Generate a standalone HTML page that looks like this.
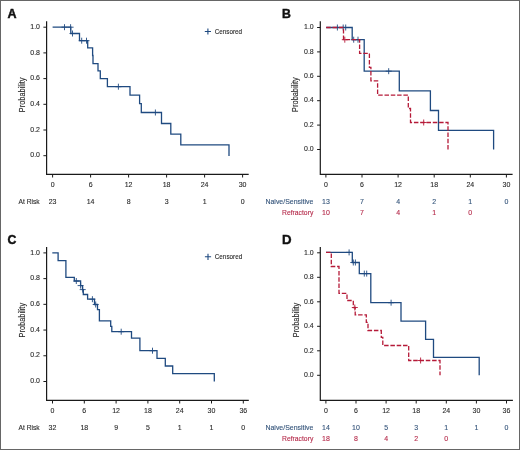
<!DOCTYPE html>
<html><head><meta charset="utf-8"><style>
html,body{margin:0;padding:0;background:#fff;}
svg{display:block;}
#w{will-change:transform;width:520px;height:450px;}
text{font-family:"Liberation Sans", sans-serif;}
</style></head><body>
<div id="w"><svg width="520" height="450" viewBox="0 0 520 450">
<rect x="0" y="0" width="520" height="450" fill="#fff"/>
<rect x="0.5" y="0.5" width="519" height="449" fill="none" stroke="#666666" stroke-width="1"/>
<text transform="translate(7.60,17.50) scale(1.01,1)" x="0" y="0" font-size="12.4" font-weight="bold" fill="#111" stroke="#111" stroke-width="0.45">A</text>
<path d="M46.60,21.20V174.30H248.70" stroke="#1a1a1a" stroke-width="1.2" fill="none"/>
<path d="M43.40,155.70H46.60" stroke="#1a1a1a" stroke-width="1"/>
<text x="40.00" y="157.40" font-size="7.6" text-anchor="end" fill="#2a2a2a" font-weight="normal" textLength="9.7" lengthAdjust="spacingAndGlyphs"  stroke="#2a2a2a" stroke-width="0.12">0.0</text>
<path d="M43.40,130.00H46.60" stroke="#1a1a1a" stroke-width="1"/>
<text x="40.00" y="131.70" font-size="7.6" text-anchor="end" fill="#2a2a2a" font-weight="normal" textLength="9.7" lengthAdjust="spacingAndGlyphs"  stroke="#2a2a2a" stroke-width="0.12">0.2</text>
<path d="M43.40,104.30H46.60" stroke="#1a1a1a" stroke-width="1"/>
<text x="40.00" y="106.00" font-size="7.6" text-anchor="end" fill="#2a2a2a" font-weight="normal" textLength="9.7" lengthAdjust="spacingAndGlyphs"  stroke="#2a2a2a" stroke-width="0.12">0.4</text>
<path d="M43.40,78.60H46.60" stroke="#1a1a1a" stroke-width="1"/>
<text x="40.00" y="80.30" font-size="7.6" text-anchor="end" fill="#2a2a2a" font-weight="normal" textLength="9.7" lengthAdjust="spacingAndGlyphs"  stroke="#2a2a2a" stroke-width="0.12">0.6</text>
<path d="M43.40,52.90H46.60" stroke="#1a1a1a" stroke-width="1"/>
<text x="40.00" y="54.60" font-size="7.6" text-anchor="end" fill="#2a2a2a" font-weight="normal" textLength="9.7" lengthAdjust="spacingAndGlyphs"  stroke="#2a2a2a" stroke-width="0.12">0.8</text>
<path d="M43.40,27.20H46.60" stroke="#1a1a1a" stroke-width="1"/>
<text x="40.00" y="28.90" font-size="7.6" text-anchor="end" fill="#2a2a2a" font-weight="normal" textLength="9.7" lengthAdjust="spacingAndGlyphs"  stroke="#2a2a2a" stroke-width="0.12">1.0</text>
<path d="M52.60,174.30V177.50" stroke="#1a1a1a" stroke-width="1"/>
<text x="52.60" y="187.00" font-size="7.6" text-anchor="middle" fill="#2a2a2a" font-weight="normal" textLength="3.89" lengthAdjust="spacingAndGlyphs"  stroke="#2a2a2a" stroke-width="0.12">0</text>
<path d="M90.60,174.30V177.50" stroke="#1a1a1a" stroke-width="1"/>
<text x="90.60" y="187.00" font-size="7.6" text-anchor="middle" fill="#2a2a2a" font-weight="normal" textLength="3.89" lengthAdjust="spacingAndGlyphs"  stroke="#2a2a2a" stroke-width="0.12">6</text>
<path d="M128.60,174.30V177.50" stroke="#1a1a1a" stroke-width="1"/>
<text x="128.60" y="187.00" font-size="7.6" text-anchor="middle" fill="#2a2a2a" font-weight="normal" textLength="7.79" lengthAdjust="spacingAndGlyphs"  stroke="#2a2a2a" stroke-width="0.12">12</text>
<path d="M166.60,174.30V177.50" stroke="#1a1a1a" stroke-width="1"/>
<text x="166.60" y="187.00" font-size="7.6" text-anchor="middle" fill="#2a2a2a" font-weight="normal" textLength="7.79" lengthAdjust="spacingAndGlyphs"  stroke="#2a2a2a" stroke-width="0.12">18</text>
<path d="M204.60,174.30V177.50" stroke="#1a1a1a" stroke-width="1"/>
<text x="204.60" y="187.00" font-size="7.6" text-anchor="middle" fill="#2a2a2a" font-weight="normal" textLength="7.79" lengthAdjust="spacingAndGlyphs"  stroke="#2a2a2a" stroke-width="0.12">24</text>
<path d="M242.60,174.30V177.50" stroke="#1a1a1a" stroke-width="1"/>
<text x="242.60" y="187.00" font-size="7.6" text-anchor="middle" fill="#2a2a2a" font-weight="normal" textLength="7.79" lengthAdjust="spacingAndGlyphs"  stroke="#2a2a2a" stroke-width="0.12">30</text>
<text x="25.40" y="94.90" font-size="8.6" text-anchor="middle" fill="#2a2a2a" font-weight="normal" textLength="34.6" lengthAdjust="spacingAndGlyphs" transform="rotate(-90 25.40 94.90)" stroke="#2a2a2a" stroke-width="0.12">Probability</text>
<text x="18.50" y="204.00" font-size="7.6" text-anchor="start" fill="#2a2a2a" font-weight="normal" textLength="21.2" lengthAdjust="spacingAndGlyphs"  stroke="#2a2a2a" stroke-width="0.12">At Risk</text>
<text x="52.60" y="204.00" font-size="7.6" text-anchor="middle" fill="#2a2a2a" font-weight="normal" textLength="7.79" lengthAdjust="spacingAndGlyphs"  stroke="#2a2a2a" stroke-width="0.12">23</text>
<text x="90.60" y="204.00" font-size="7.6" text-anchor="middle" fill="#2a2a2a" font-weight="normal" textLength="7.79" lengthAdjust="spacingAndGlyphs"  stroke="#2a2a2a" stroke-width="0.12">14</text>
<text x="128.60" y="204.00" font-size="7.6" text-anchor="middle" fill="#2a2a2a" font-weight="normal" textLength="3.89" lengthAdjust="spacingAndGlyphs"  stroke="#2a2a2a" stroke-width="0.12">8</text>
<text x="166.60" y="204.00" font-size="7.6" text-anchor="middle" fill="#2a2a2a" font-weight="normal" textLength="3.89" lengthAdjust="spacingAndGlyphs"  stroke="#2a2a2a" stroke-width="0.12">3</text>
<text x="204.60" y="204.00" font-size="7.6" text-anchor="middle" fill="#2a2a2a" font-weight="normal" textLength="3.89" lengthAdjust="spacingAndGlyphs"  stroke="#2a2a2a" stroke-width="0.12">1</text>
<text x="242.60" y="204.00" font-size="7.6" text-anchor="middle" fill="#2a2a2a" font-weight="normal" textLength="3.89" lengthAdjust="spacingAndGlyphs"  stroke="#2a2a2a" stroke-width="0.12">0</text>
<path d="M204.80,31.50H211.00M207.90,28.40V34.60" stroke="#1f4a80" stroke-width="1.1" fill="none"/>
<text x="214.70" y="33.80" font-size="7.6" text-anchor="start" fill="#2a2a2a" font-weight="normal" textLength="27.4" lengthAdjust="spacingAndGlyphs"  stroke="#2a2a2a" stroke-width="0.12">Censored</text>
<g transform="translate(0,0.3)">
<path d="M52.6,26.9H70.8V33.2H79.5V40.4H87.7V47.5H92.6V55.2H93V63.3H98V70.5H100.3V78.4H107.4V86.4H130V94.8H139.6V103.4H141.3V112.2H161.5V123.2H170.8V133.8H180.8V144.5H229V155.7" stroke="#1f4a80" stroke-width="1.3" fill="none"/>
<path d="M61.50,26.90H67.50M64.50,23.90V29.90" stroke="#1f4a80" stroke-width="0.9" fill="none"/>
<path d="M67.60,26.90H73.60M70.60,23.90V29.90" stroke="#1f4a80" stroke-width="0.9" fill="none"/>
<path d="M69.50,33.20H75.50M72.50,30.20V36.20" stroke="#1f4a80" stroke-width="0.9" fill="none"/>
<path d="M78.70,40.40H84.70M81.70,37.40V43.40" stroke="#1f4a80" stroke-width="0.9" fill="none"/>
<path d="M83.50,40.40H89.50M86.50,37.40V43.40" stroke="#1f4a80" stroke-width="0.9" fill="none"/>
<path d="M115.40,86.40H121.40M118.40,83.40V89.40" stroke="#1f4a80" stroke-width="0.9" fill="none"/>
<path d="M152.40,112.20H158.40M155.40,109.20V115.20" stroke="#1f4a80" stroke-width="0.9" fill="none"/>
</g>
<text transform="translate(281.90,17.60) scale(0.99,1)" x="0" y="0" font-size="12.4" font-weight="bold" fill="#111" stroke="#111" stroke-width="0.45">B</text>
<path d="M320.30,21.20V174.30H512.60" stroke="#1a1a1a" stroke-width="1.2" fill="none"/>
<path d="M317.10,149.50H320.30" stroke="#1a1a1a" stroke-width="1"/>
<text x="313.70" y="151.20" font-size="7.6" text-anchor="end" fill="#2a2a2a" font-weight="normal" textLength="9.7" lengthAdjust="spacingAndGlyphs"  stroke="#2a2a2a" stroke-width="0.12">0.0</text>
<path d="M317.10,125.10H320.30" stroke="#1a1a1a" stroke-width="1"/>
<text x="313.70" y="126.80" font-size="7.6" text-anchor="end" fill="#2a2a2a" font-weight="normal" textLength="9.7" lengthAdjust="spacingAndGlyphs"  stroke="#2a2a2a" stroke-width="0.12">0.2</text>
<path d="M317.10,100.70H320.30" stroke="#1a1a1a" stroke-width="1"/>
<text x="313.70" y="102.40" font-size="7.6" text-anchor="end" fill="#2a2a2a" font-weight="normal" textLength="9.7" lengthAdjust="spacingAndGlyphs"  stroke="#2a2a2a" stroke-width="0.12">0.4</text>
<path d="M317.10,76.30H320.30" stroke="#1a1a1a" stroke-width="1"/>
<text x="313.70" y="78.00" font-size="7.6" text-anchor="end" fill="#2a2a2a" font-weight="normal" textLength="9.7" lengthAdjust="spacingAndGlyphs"  stroke="#2a2a2a" stroke-width="0.12">0.6</text>
<path d="M317.10,51.90H320.30" stroke="#1a1a1a" stroke-width="1"/>
<text x="313.70" y="53.60" font-size="7.6" text-anchor="end" fill="#2a2a2a" font-weight="normal" textLength="9.7" lengthAdjust="spacingAndGlyphs"  stroke="#2a2a2a" stroke-width="0.12">0.8</text>
<path d="M317.10,27.50H320.30" stroke="#1a1a1a" stroke-width="1"/>
<text x="313.70" y="29.20" font-size="7.6" text-anchor="end" fill="#2a2a2a" font-weight="normal" textLength="9.7" lengthAdjust="spacingAndGlyphs"  stroke="#2a2a2a" stroke-width="0.12">1.0</text>
<path d="M325.90,174.30V177.50" stroke="#1a1a1a" stroke-width="1"/>
<text x="325.90" y="186.70" font-size="7.6" text-anchor="middle" fill="#2a2a2a" font-weight="normal" textLength="3.89" lengthAdjust="spacingAndGlyphs"  stroke="#2a2a2a" stroke-width="0.12">0</text>
<path d="M362.00,174.30V177.50" stroke="#1a1a1a" stroke-width="1"/>
<text x="362.00" y="186.70" font-size="7.6" text-anchor="middle" fill="#2a2a2a" font-weight="normal" textLength="3.89" lengthAdjust="spacingAndGlyphs"  stroke="#2a2a2a" stroke-width="0.12">6</text>
<path d="M398.10,174.30V177.50" stroke="#1a1a1a" stroke-width="1"/>
<text x="398.10" y="186.70" font-size="7.6" text-anchor="middle" fill="#2a2a2a" font-weight="normal" textLength="7.79" lengthAdjust="spacingAndGlyphs"  stroke="#2a2a2a" stroke-width="0.12">12</text>
<path d="M434.20,174.30V177.50" stroke="#1a1a1a" stroke-width="1"/>
<text x="434.20" y="186.70" font-size="7.6" text-anchor="middle" fill="#2a2a2a" font-weight="normal" textLength="7.79" lengthAdjust="spacingAndGlyphs"  stroke="#2a2a2a" stroke-width="0.12">18</text>
<path d="M470.30,174.30V177.50" stroke="#1a1a1a" stroke-width="1"/>
<text x="470.30" y="186.70" font-size="7.6" text-anchor="middle" fill="#2a2a2a" font-weight="normal" textLength="7.79" lengthAdjust="spacingAndGlyphs"  stroke="#2a2a2a" stroke-width="0.12">24</text>
<path d="M506.40,174.30V177.50" stroke="#1a1a1a" stroke-width="1"/>
<text x="506.40" y="186.70" font-size="7.6" text-anchor="middle" fill="#2a2a2a" font-weight="normal" textLength="7.79" lengthAdjust="spacingAndGlyphs"  stroke="#2a2a2a" stroke-width="0.12">30</text>
<text x="298.40" y="94.60" font-size="8.6" text-anchor="middle" fill="#2a2a2a" font-weight="normal" textLength="34.6" lengthAdjust="spacingAndGlyphs" transform="rotate(-90 298.40 94.60)" stroke="#2a2a2a" stroke-width="0.12">Probability</text>
<text x="313.30" y="204.20" font-size="7.6" text-anchor="end" fill="#34547a" font-weight="normal" textLength="47.8" lengthAdjust="spacingAndGlyphs"  stroke="#34547a" stroke-width="0.12">Naive/Sensitive</text>
<text x="325.90" y="204.20" font-size="7.6" text-anchor="middle" fill="#34547a" font-weight="normal" textLength="7.79" lengthAdjust="spacingAndGlyphs"  stroke="#34547a" stroke-width="0.12">13</text>
<text x="362.00" y="204.20" font-size="7.6" text-anchor="middle" fill="#34547a" font-weight="normal" textLength="3.89" lengthAdjust="spacingAndGlyphs"  stroke="#34547a" stroke-width="0.12">7</text>
<text x="398.10" y="204.20" font-size="7.6" text-anchor="middle" fill="#34547a" font-weight="normal" textLength="3.89" lengthAdjust="spacingAndGlyphs"  stroke="#34547a" stroke-width="0.12">4</text>
<text x="434.20" y="204.20" font-size="7.6" text-anchor="middle" fill="#34547a" font-weight="normal" textLength="3.89" lengthAdjust="spacingAndGlyphs"  stroke="#34547a" stroke-width="0.12">2</text>
<text x="470.30" y="204.20" font-size="7.6" text-anchor="middle" fill="#34547a" font-weight="normal" textLength="3.89" lengthAdjust="spacingAndGlyphs"  stroke="#34547a" stroke-width="0.12">1</text>
<text x="506.40" y="204.20" font-size="7.6" text-anchor="middle" fill="#34547a" font-weight="normal" textLength="3.89" lengthAdjust="spacingAndGlyphs"  stroke="#34547a" stroke-width="0.12">0</text>
<text x="313.30" y="214.70" font-size="7.6" text-anchor="end" fill="#b52a4a" font-weight="normal" textLength="31.3" lengthAdjust="spacingAndGlyphs"  stroke="#b52a4a" stroke-width="0.12">Refractory</text>
<text x="325.90" y="214.70" font-size="7.6" text-anchor="middle" fill="#b52a4a" font-weight="normal" textLength="7.79" lengthAdjust="spacingAndGlyphs"  stroke="#b52a4a" stroke-width="0.12">10</text>
<text x="362.00" y="214.70" font-size="7.6" text-anchor="middle" fill="#b52a4a" font-weight="normal" textLength="3.89" lengthAdjust="spacingAndGlyphs"  stroke="#b52a4a" stroke-width="0.12">7</text>
<text x="398.10" y="214.70" font-size="7.6" text-anchor="middle" fill="#b52a4a" font-weight="normal" textLength="3.89" lengthAdjust="spacingAndGlyphs"  stroke="#b52a4a" stroke-width="0.12">4</text>
<text x="434.20" y="214.70" font-size="7.6" text-anchor="middle" fill="#b52a4a" font-weight="normal" textLength="3.89" lengthAdjust="spacingAndGlyphs"  stroke="#b52a4a" stroke-width="0.12">1</text>
<text x="470.30" y="214.70" font-size="7.6" text-anchor="middle" fill="#b52a4a" font-weight="normal" textLength="3.89" lengthAdjust="spacingAndGlyphs"  stroke="#b52a4a" stroke-width="0.12">0</text>
<g transform="translate(0,0.3)">
<path d="M326.2,27.2H352.2V39.4H364.2V70.9H399.3V90.5H430.4V110.2H438.5V130H493.6V149.2" stroke="#1f4a80" stroke-width="1.3" fill="none"/>
<path d="M334.40,27.20H340.40M337.40,24.20V30.20" stroke="#1f4a80" stroke-width="0.9" fill="none"/>
<path d="M340.20,27.20H346.20M343.20,24.20V30.20" stroke="#1f4a80" stroke-width="0.9" fill="none"/>
<path d="M342.70,27.20H348.70M345.70,24.20V30.20" stroke="#1f4a80" stroke-width="0.9" fill="none"/>
<path d="M350.70,39.40H356.70M353.70,36.40V42.40" stroke="#1f4a80" stroke-width="0.9" fill="none"/>
<path d="M355.00,39.40H361.00M358.00,36.40V42.40" stroke="#1f4a80" stroke-width="0.9" fill="none"/>
<path d="M385.70,70.90H391.70M388.70,67.90V73.90" stroke="#1f4a80" stroke-width="0.9" fill="none"/>
<path d="M326.2,27.2H343.5V39.4H359.6V53.1H369.4V67H370.9V80.5H377.6V94.9H408.3V108.2H410.5V122.2H448V149.2" stroke="#b51a38" stroke-width="1.3" fill="none" stroke-dasharray="4.5 1.8"/>
<path d="M341.80,39.40H347.80M344.80,36.40V42.40" stroke="#b51a38" stroke-width="0.9" fill="none"/>
<path d="M420.70,122.20H426.70M423.70,119.20V125.20" stroke="#b51a38" stroke-width="0.9" fill="none"/>
</g>
<text transform="translate(7.60,243.70) scale(0.99,1)" x="0" y="0" font-size="12.4" font-weight="bold" fill="#111" stroke="#111" stroke-width="0.45">C</text>
<path d="M46.60,246.90V400.30H248.80" stroke="#1a1a1a" stroke-width="1.2" fill="none"/>
<path d="M43.40,381.50H46.60" stroke="#1a1a1a" stroke-width="1"/>
<text x="40.00" y="383.20" font-size="7.6" text-anchor="end" fill="#2a2a2a" font-weight="normal" textLength="9.7" lengthAdjust="spacingAndGlyphs"  stroke="#2a2a2a" stroke-width="0.12">0.0</text>
<path d="M43.40,355.78H46.60" stroke="#1a1a1a" stroke-width="1"/>
<text x="40.00" y="357.48" font-size="7.6" text-anchor="end" fill="#2a2a2a" font-weight="normal" textLength="9.7" lengthAdjust="spacingAndGlyphs"  stroke="#2a2a2a" stroke-width="0.12">0.2</text>
<path d="M43.40,330.06H46.60" stroke="#1a1a1a" stroke-width="1"/>
<text x="40.00" y="331.76" font-size="7.6" text-anchor="end" fill="#2a2a2a" font-weight="normal" textLength="9.7" lengthAdjust="spacingAndGlyphs"  stroke="#2a2a2a" stroke-width="0.12">0.4</text>
<path d="M43.40,304.34H46.60" stroke="#1a1a1a" stroke-width="1"/>
<text x="40.00" y="306.04" font-size="7.6" text-anchor="end" fill="#2a2a2a" font-weight="normal" textLength="9.7" lengthAdjust="spacingAndGlyphs"  stroke="#2a2a2a" stroke-width="0.12">0.6</text>
<path d="M43.40,278.62H46.60" stroke="#1a1a1a" stroke-width="1"/>
<text x="40.00" y="280.32" font-size="7.6" text-anchor="end" fill="#2a2a2a" font-weight="normal" textLength="9.7" lengthAdjust="spacingAndGlyphs"  stroke="#2a2a2a" stroke-width="0.12">0.8</text>
<path d="M43.40,252.90H46.60" stroke="#1a1a1a" stroke-width="1"/>
<text x="40.00" y="254.60" font-size="7.6" text-anchor="end" fill="#2a2a2a" font-weight="normal" textLength="9.7" lengthAdjust="spacingAndGlyphs"  stroke="#2a2a2a" stroke-width="0.12">1.0</text>
<path d="M52.50,400.30V403.50" stroke="#1a1a1a" stroke-width="1"/>
<text x="52.50" y="413.00" font-size="7.6" text-anchor="middle" fill="#2a2a2a" font-weight="normal" textLength="3.89" lengthAdjust="spacingAndGlyphs"  stroke="#2a2a2a" stroke-width="0.12">0</text>
<path d="M84.30,400.30V403.50" stroke="#1a1a1a" stroke-width="1"/>
<text x="84.30" y="413.00" font-size="7.6" text-anchor="middle" fill="#2a2a2a" font-weight="normal" textLength="3.89" lengthAdjust="spacingAndGlyphs"  stroke="#2a2a2a" stroke-width="0.12">6</text>
<path d="M116.10,400.30V403.50" stroke="#1a1a1a" stroke-width="1"/>
<text x="116.10" y="413.00" font-size="7.6" text-anchor="middle" fill="#2a2a2a" font-weight="normal" textLength="7.79" lengthAdjust="spacingAndGlyphs"  stroke="#2a2a2a" stroke-width="0.12">12</text>
<path d="M147.90,400.30V403.50" stroke="#1a1a1a" stroke-width="1"/>
<text x="147.90" y="413.00" font-size="7.6" text-anchor="middle" fill="#2a2a2a" font-weight="normal" textLength="7.79" lengthAdjust="spacingAndGlyphs"  stroke="#2a2a2a" stroke-width="0.12">18</text>
<path d="M179.70,400.30V403.50" stroke="#1a1a1a" stroke-width="1"/>
<text x="179.70" y="413.00" font-size="7.6" text-anchor="middle" fill="#2a2a2a" font-weight="normal" textLength="7.79" lengthAdjust="spacingAndGlyphs"  stroke="#2a2a2a" stroke-width="0.12">24</text>
<path d="M211.50,400.30V403.50" stroke="#1a1a1a" stroke-width="1"/>
<text x="211.50" y="413.00" font-size="7.6" text-anchor="middle" fill="#2a2a2a" font-weight="normal" textLength="7.79" lengthAdjust="spacingAndGlyphs"  stroke="#2a2a2a" stroke-width="0.12">30</text>
<path d="M243.30,400.30V403.50" stroke="#1a1a1a" stroke-width="1"/>
<text x="243.30" y="413.00" font-size="7.6" text-anchor="middle" fill="#2a2a2a" font-weight="normal" textLength="7.79" lengthAdjust="spacingAndGlyphs"  stroke="#2a2a2a" stroke-width="0.12">36</text>
<text x="25.40" y="320.20" font-size="8.6" text-anchor="middle" fill="#2a2a2a" font-weight="normal" textLength="34.6" lengthAdjust="spacingAndGlyphs" transform="rotate(-90 25.40 320.20)" stroke="#2a2a2a" stroke-width="0.12">Probability</text>
<text x="18.50" y="430.00" font-size="7.6" text-anchor="start" fill="#2a2a2a" font-weight="normal" textLength="21.2" lengthAdjust="spacingAndGlyphs"  stroke="#2a2a2a" stroke-width="0.12">At Risk</text>
<text x="52.50" y="430.00" font-size="7.6" text-anchor="middle" fill="#2a2a2a" font-weight="normal" textLength="7.79" lengthAdjust="spacingAndGlyphs"  stroke="#2a2a2a" stroke-width="0.12">32</text>
<text x="84.30" y="430.00" font-size="7.6" text-anchor="middle" fill="#2a2a2a" font-weight="normal" textLength="7.79" lengthAdjust="spacingAndGlyphs"  stroke="#2a2a2a" stroke-width="0.12">18</text>
<text x="116.10" y="430.00" font-size="7.6" text-anchor="middle" fill="#2a2a2a" font-weight="normal" textLength="3.89" lengthAdjust="spacingAndGlyphs"  stroke="#2a2a2a" stroke-width="0.12">9</text>
<text x="147.90" y="430.00" font-size="7.6" text-anchor="middle" fill="#2a2a2a" font-weight="normal" textLength="3.89" lengthAdjust="spacingAndGlyphs"  stroke="#2a2a2a" stroke-width="0.12">5</text>
<text x="179.70" y="430.00" font-size="7.6" text-anchor="middle" fill="#2a2a2a" font-weight="normal" textLength="3.89" lengthAdjust="spacingAndGlyphs"  stroke="#2a2a2a" stroke-width="0.12">1</text>
<text x="211.50" y="430.00" font-size="7.6" text-anchor="middle" fill="#2a2a2a" font-weight="normal" textLength="3.89" lengthAdjust="spacingAndGlyphs"  stroke="#2a2a2a" stroke-width="0.12">1</text>
<text x="243.30" y="430.00" font-size="7.6" text-anchor="middle" fill="#2a2a2a" font-weight="normal" textLength="3.89" lengthAdjust="spacingAndGlyphs"  stroke="#2a2a2a" stroke-width="0.12">0</text>
<path d="M204.90,256.80H211.10M208.00,253.70V259.90" stroke="#1f4a80" stroke-width="1.1" fill="none"/>
<text x="214.80" y="259.10" font-size="7.6" text-anchor="start" fill="#2a2a2a" font-weight="normal" textLength="27.4" lengthAdjust="spacingAndGlyphs"  stroke="#2a2a2a" stroke-width="0.12">Censored</text>
<g transform="translate(0,0.3)">
<path d="M52.3,252.6H58.1V260.4H65.9V277H74.3V280.7H80.6V285.3H82.5V289.3H83.3V294.2H87.6V298.9H94.5V304.2H97.5V309.4H99.4V320.6H110.7V326H111.8V331.4H131.5V337.8H139.9V350.4H157V358H165.3V365.7H172.7V373.3H214.3V381.2" stroke="#1f4a80" stroke-width="1.3" fill="none"/>
<path d="M73.30,280.70H79.30M76.30,277.70V283.70" stroke="#1f4a80" stroke-width="0.9" fill="none"/>
<path d="M77.60,285.30H83.60M80.60,282.30V288.30" stroke="#1f4a80" stroke-width="0.9" fill="none"/>
<path d="M79.70,289.30H85.70M82.70,286.30V292.30" stroke="#1f4a80" stroke-width="0.9" fill="none"/>
<path d="M89.40,298.90H95.40M92.40,295.90V301.90" stroke="#1f4a80" stroke-width="0.9" fill="none"/>
<path d="M92.70,304.20H98.70M95.70,301.20V307.20" stroke="#1f4a80" stroke-width="0.9" fill="none"/>
<path d="M118.20,331.40H124.20M121.20,328.40V334.40" stroke="#1f4a80" stroke-width="0.9" fill="none"/>
<path d="M149.50,350.40H155.50M152.50,347.40V353.40" stroke="#1f4a80" stroke-width="0.9" fill="none"/>
</g>
<text transform="translate(281.90,243.80) scale(1.07,1)" x="0" y="0" font-size="12.4" font-weight="bold" fill="#111" stroke="#111" stroke-width="0.4">D</text>
<path d="M320.30,246.90V400.30H512.90" stroke="#1a1a1a" stroke-width="1.2" fill="none"/>
<path d="M317.10,375.30H320.30" stroke="#1a1a1a" stroke-width="1"/>
<text x="313.70" y="377.00" font-size="7.6" text-anchor="end" fill="#2a2a2a" font-weight="normal" textLength="9.7" lengthAdjust="spacingAndGlyphs"  stroke="#2a2a2a" stroke-width="0.12">0.0</text>
<path d="M317.10,350.80H320.30" stroke="#1a1a1a" stroke-width="1"/>
<text x="313.70" y="352.50" font-size="7.6" text-anchor="end" fill="#2a2a2a" font-weight="normal" textLength="9.7" lengthAdjust="spacingAndGlyphs"  stroke="#2a2a2a" stroke-width="0.12">0.2</text>
<path d="M317.10,326.30H320.30" stroke="#1a1a1a" stroke-width="1"/>
<text x="313.70" y="328.00" font-size="7.6" text-anchor="end" fill="#2a2a2a" font-weight="normal" textLength="9.7" lengthAdjust="spacingAndGlyphs"  stroke="#2a2a2a" stroke-width="0.12">0.4</text>
<path d="M317.10,301.80H320.30" stroke="#1a1a1a" stroke-width="1"/>
<text x="313.70" y="303.50" font-size="7.6" text-anchor="end" fill="#2a2a2a" font-weight="normal" textLength="9.7" lengthAdjust="spacingAndGlyphs"  stroke="#2a2a2a" stroke-width="0.12">0.6</text>
<path d="M317.10,277.30H320.30" stroke="#1a1a1a" stroke-width="1"/>
<text x="313.70" y="279.00" font-size="7.6" text-anchor="end" fill="#2a2a2a" font-weight="normal" textLength="9.7" lengthAdjust="spacingAndGlyphs"  stroke="#2a2a2a" stroke-width="0.12">0.8</text>
<path d="M317.10,252.80H320.30" stroke="#1a1a1a" stroke-width="1"/>
<text x="313.70" y="254.50" font-size="7.6" text-anchor="end" fill="#2a2a2a" font-weight="normal" textLength="9.7" lengthAdjust="spacingAndGlyphs"  stroke="#2a2a2a" stroke-width="0.12">1.0</text>
<path d="M325.90,400.30V403.50" stroke="#1a1a1a" stroke-width="1"/>
<text x="325.90" y="412.60" font-size="7.6" text-anchor="middle" fill="#2a2a2a" font-weight="normal" textLength="3.89" lengthAdjust="spacingAndGlyphs"  stroke="#2a2a2a" stroke-width="0.12">0</text>
<path d="M356.00,400.30V403.50" stroke="#1a1a1a" stroke-width="1"/>
<text x="356.00" y="412.60" font-size="7.6" text-anchor="middle" fill="#2a2a2a" font-weight="normal" textLength="3.89" lengthAdjust="spacingAndGlyphs"  stroke="#2a2a2a" stroke-width="0.12">6</text>
<path d="M386.10,400.30V403.50" stroke="#1a1a1a" stroke-width="1"/>
<text x="386.10" y="412.60" font-size="7.6" text-anchor="middle" fill="#2a2a2a" font-weight="normal" textLength="7.79" lengthAdjust="spacingAndGlyphs"  stroke="#2a2a2a" stroke-width="0.12">12</text>
<path d="M416.20,400.30V403.50" stroke="#1a1a1a" stroke-width="1"/>
<text x="416.20" y="412.60" font-size="7.6" text-anchor="middle" fill="#2a2a2a" font-weight="normal" textLength="7.79" lengthAdjust="spacingAndGlyphs"  stroke="#2a2a2a" stroke-width="0.12">18</text>
<path d="M446.30,400.30V403.50" stroke="#1a1a1a" stroke-width="1"/>
<text x="446.30" y="412.60" font-size="7.6" text-anchor="middle" fill="#2a2a2a" font-weight="normal" textLength="7.79" lengthAdjust="spacingAndGlyphs"  stroke="#2a2a2a" stroke-width="0.12">24</text>
<path d="M476.40,400.30V403.50" stroke="#1a1a1a" stroke-width="1"/>
<text x="476.40" y="412.60" font-size="7.6" text-anchor="middle" fill="#2a2a2a" font-weight="normal" textLength="7.79" lengthAdjust="spacingAndGlyphs"  stroke="#2a2a2a" stroke-width="0.12">30</text>
<path d="M506.50,400.30V403.50" stroke="#1a1a1a" stroke-width="1"/>
<text x="506.50" y="412.60" font-size="7.6" text-anchor="middle" fill="#2a2a2a" font-weight="normal" textLength="7.79" lengthAdjust="spacingAndGlyphs"  stroke="#2a2a2a" stroke-width="0.12">36</text>
<text x="298.60" y="320.00" font-size="8.6" text-anchor="middle" fill="#2a2a2a" font-weight="normal" textLength="34.6" lengthAdjust="spacingAndGlyphs" transform="rotate(-90 298.60 320.00)" stroke="#2a2a2a" stroke-width="0.12">Probability</text>
<text x="313.30" y="430.20" font-size="7.6" text-anchor="end" fill="#34547a" font-weight="normal" textLength="47.8" lengthAdjust="spacingAndGlyphs"  stroke="#34547a" stroke-width="0.12">Naive/Sensitive</text>
<text x="325.90" y="430.20" font-size="7.6" text-anchor="middle" fill="#34547a" font-weight="normal" textLength="7.79" lengthAdjust="spacingAndGlyphs"  stroke="#34547a" stroke-width="0.12">14</text>
<text x="356.00" y="430.20" font-size="7.6" text-anchor="middle" fill="#34547a" font-weight="normal" textLength="7.79" lengthAdjust="spacingAndGlyphs"  stroke="#34547a" stroke-width="0.12">10</text>
<text x="386.10" y="430.20" font-size="7.6" text-anchor="middle" fill="#34547a" font-weight="normal" textLength="3.89" lengthAdjust="spacingAndGlyphs"  stroke="#34547a" stroke-width="0.12">5</text>
<text x="416.20" y="430.20" font-size="7.6" text-anchor="middle" fill="#34547a" font-weight="normal" textLength="3.89" lengthAdjust="spacingAndGlyphs"  stroke="#34547a" stroke-width="0.12">3</text>
<text x="446.30" y="430.20" font-size="7.6" text-anchor="middle" fill="#34547a" font-weight="normal" textLength="3.89" lengthAdjust="spacingAndGlyphs"  stroke="#34547a" stroke-width="0.12">1</text>
<text x="476.40" y="430.20" font-size="7.6" text-anchor="middle" fill="#34547a" font-weight="normal" textLength="3.89" lengthAdjust="spacingAndGlyphs"  stroke="#34547a" stroke-width="0.12">1</text>
<text x="506.50" y="430.20" font-size="7.6" text-anchor="middle" fill="#34547a" font-weight="normal" textLength="3.89" lengthAdjust="spacingAndGlyphs"  stroke="#34547a" stroke-width="0.12">0</text>
<text x="313.30" y="441.30" font-size="7.6" text-anchor="end" fill="#b52a4a" font-weight="normal" textLength="31.3" lengthAdjust="spacingAndGlyphs"  stroke="#b52a4a" stroke-width="0.12">Refractory</text>
<text x="325.90" y="441.30" font-size="7.6" text-anchor="middle" fill="#b52a4a" font-weight="normal" textLength="7.79" lengthAdjust="spacingAndGlyphs"  stroke="#b52a4a" stroke-width="0.12">18</text>
<text x="356.00" y="441.30" font-size="7.6" text-anchor="middle" fill="#b52a4a" font-weight="normal" textLength="3.89" lengthAdjust="spacingAndGlyphs"  stroke="#b52a4a" stroke-width="0.12">8</text>
<text x="386.10" y="441.30" font-size="7.6" text-anchor="middle" fill="#b52a4a" font-weight="normal" textLength="3.89" lengthAdjust="spacingAndGlyphs"  stroke="#b52a4a" stroke-width="0.12">4</text>
<text x="416.20" y="441.30" font-size="7.6" text-anchor="middle" fill="#b52a4a" font-weight="normal" textLength="3.89" lengthAdjust="spacingAndGlyphs"  stroke="#b52a4a" stroke-width="0.12">2</text>
<text x="446.30" y="441.30" font-size="7.6" text-anchor="middle" fill="#b52a4a" font-weight="normal" textLength="3.89" lengthAdjust="spacingAndGlyphs"  stroke="#b52a4a" stroke-width="0.12">0</text>
<g transform="translate(0,0.3)">
<path d="M326,252.1H352.3V262.2H359.3V273.3H370.8V302.4H401V320.8H425.6V339H433.5V357H479.2V375" stroke="#1f4a80" stroke-width="1.3" fill="none"/>
<path d="M346.10,252.10H352.10M349.10,249.10V255.10" stroke="#1f4a80" stroke-width="0.9" fill="none"/>
<path d="M350.30,262.20H356.30M353.30,259.20V265.20" stroke="#1f4a80" stroke-width="0.9" fill="none"/>
<path d="M352.40,262.20H358.40M355.40,259.20V265.20" stroke="#1f4a80" stroke-width="0.9" fill="none"/>
<path d="M361.30,273.30H367.30M364.30,270.30V276.30" stroke="#1f4a80" stroke-width="0.9" fill="none"/>
<path d="M363.70,273.30H369.70M366.70,270.30V276.30" stroke="#1f4a80" stroke-width="0.9" fill="none"/>
<path d="M388.10,302.40H394.10M391.10,299.40V305.40" stroke="#1f4a80" stroke-width="0.9" fill="none"/>
<path d="M326,252.1H331.3V266.2H339V293H347V300.2H353.3V307.2H355.2V314.5H366.3V322H368V330.2H381.3V337H382.8V345.2H408.7V360.2H440V375" stroke="#b51a38" stroke-width="1.3" fill="none" stroke-dasharray="4.5 1.8"/>
<path d="M351.80,307.20H357.80M354.80,304.20V310.20" stroke="#b51a38" stroke-width="0.9" fill="none"/>
<path d="M417.60,360.20H423.60M420.60,357.20V363.20" stroke="#b51a38" stroke-width="0.9" fill="none"/>
</g>
</svg></div>
</body></html>
